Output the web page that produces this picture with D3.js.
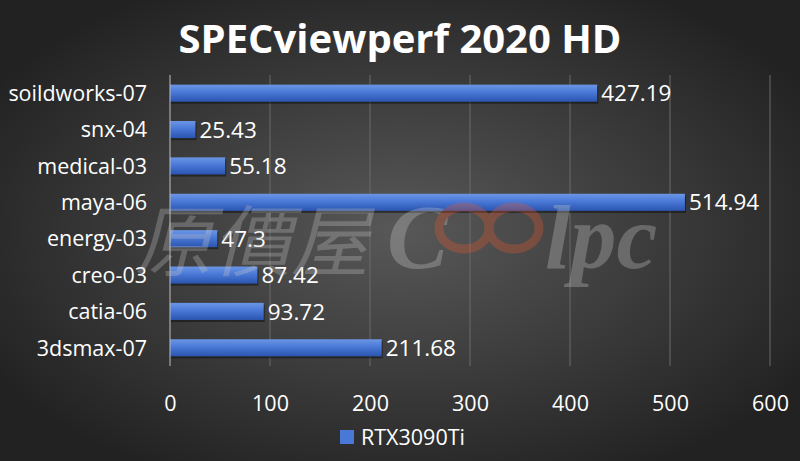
<!DOCTYPE html>
<html><head><meta charset="utf-8">
<script src="https://cdn.jsdelivr.net/npm/d3@7"></script>
<style>html,body{margin:0;padding:0;background:#2a2a2a;}svg{display:block;}</style>
</head><body>
<svg id="chart" width="800" height="461"></svg>
<script>
const categories = ["soildworks-07","snx-04","medical-03","maya-06","energy-03","creo-03","catia-06","3dsmax-07"];
const values = [427.19, 25.43, 55.18, 514.94, 47.3, 87.42, 93.72, 211.68];
const valueLabels = ["427.19","25.43","55.18","514.94","47.3","87.42","93.72","211.68"];
const xTicks = [0,100,200,300,400,500,600];
const seriesName = "RTX3090Ti";
const title = "SPECviewperf 2020 HD";

const svg = d3.select("#chart");
const W = 800, H = 461;
const defs = svg.append("defs");
const bg = defs.append("radialGradient").attr("id","bg").attr("cx","50%").attr("cy","50%").attr("r","60%");
bg.append("stop").attr("offset","0%").attr("stop-color","#585858");
bg.append("stop").attr("offset","100%").attr("stop-color","#222222");
const bar = defs.append("linearGradient").attr("id","bar").attr("x1",0).attr("y1",0).attr("x2",0).attr("y2",1);
bar.append("stop").attr("offset","0%").attr("stop-color","#6b96e6");
bar.append("stop").attr("offset","45%").attr("stop-color","#4a78d6");
bar.append("stop").attr("offset","100%").attr("stop-color","#2a55b0");

svg.append("rect").attr("width",W).attr("height",H).attr("fill","url(#bg)");

const font = "'Open Sans', 'Noto Sans', sans-serif";
const x = d3.scaleLinear().domain([0,600]).range([170,770]);
const y = d3.scaleBand().domain(categories).range([75,366]).paddingInner(0.53).paddingOuter(0.265);

// gridlines
svg.append("g").selectAll("line").data(xTicks.slice(1)).join("line")
  .attr("x1",d=>x(d)).attr("x2",d=>x(d)).attr("y1",75).attr("y2",366)
  .attr("stroke","#6a6a6a").attr("stroke-width",1);

// bars
const g = svg.append("g");
g.selectAll("rect.shadow").data(values).join("rect").attr("class","shadow")
  .attr("x",x(0)+1).attr("y",(d,i)=>y(categories[i])+2).attr("width",d=>x(d)-x(0)).attr("height",y.bandwidth())
  .attr("fill","#111").attr("opacity",0.55);
g.selectAll("rect.bar").data(values).join("rect").attr("class","bar")
  .attr("x",x(0)).attr("y",(d,i)=>y(categories[i])).attr("width",d=>x(d)-x(0)).attr("height",y.bandwidth())
  .attr("fill","url(#bar)");

// axis line
svg.append("line").attr("x1",x(0)).attr("x2",x(0)).attr("y1",75).attr("y2",366).attr("stroke","#bfbfbf").attr("stroke-width",1);

// value labels
g.selectAll("text.val").data(values).join("text").attr("class","val")
  .attr("x",d=>x(d)+4).attr("y",(d,i)=>y(categories[i])+y.bandwidth()/2).attr("dy","0.36em")
  .attr("font-family",font).attr("font-size",22.5).attr("fill","#ffffff").text((d,i)=>valueLabels[i]);

// y axis labels
const yAxis = d3.axisLeft(y).tickSize(0).tickPadding(23);
const ya = svg.append("g").attr("transform",`translate(${x(0)},0)`).call(yAxis);
ya.select(".domain").remove();
ya.selectAll("text").attr("font-family",font).attr("font-size",21.5).attr("fill","#ffffff").attr("dy","0.36em");

// x axis
const xAxis = d3.axisBottom(x).tickValues(xTicks).tickSize(0).tickPadding(20);
const xa = svg.append("g").attr("transform","translate(0,376)").call(xAxis);
xa.select(".domain").remove();
xa.selectAll("text").attr("font-family",font).attr("font-size",21.5).attr("fill","#ffffff");

// watermark (on top)
const wm = svg.append("g").attr("opacity",0.3);
wm.append("text").attr("x",140).attr("y",270).attr("font-family","'Noto Sans CJK TC', serif")
  .attr("font-size",78).attr("fill","#c4c4c4").attr("transform","skewX(-14) translate(62,0)").text("原價屋");
wm.append("text").attr("x",387).attr("y",268).attr("font-family","'Liberation Serif', serif")
  .attr("font-size",92).attr("font-weight","bold").attr("font-style","italic").attr("fill","#cfcfcf").text("C");
const inf = wm.append("g").attr("fill","none").attr("stroke","#e8582a").attr("stroke-width",9);
inf.append("ellipse").attr("cx",464).attr("cy",228).attr("rx",25).attr("ry",21);
inf.append("ellipse").attr("cx",514).attr("cy",228).attr("rx",25).attr("ry",21);
wm.append("text").attr("x",545).attr("y",268).attr("font-family","'Liberation Serif', serif")
  .attr("font-size",92).attr("font-weight","bold").attr("font-style","italic").attr("fill","#cfcfcf").text("lpc");

// title
svg.append("text").attr("x",400).attr("y",53).attr("text-anchor","middle")
  .attr("font-family",font).attr("font-weight","bold").attr("font-size",40).attr("fill","#ffffff").text(title);

// legend
const lg = svg.append("g").attr("transform","translate(340,437)");
lg.append("rect").attr("x",0).attr("y",-7).attr("width",14).attr("height",14).attr("fill","#4a78d6");
lg.append("text").attr("x",21).attr("y",0).attr("dy","0.36em").attr("font-family",font).attr("font-size",21.5).attr("fill","#ffffff").text(seriesName);
</script>
</body></html>
